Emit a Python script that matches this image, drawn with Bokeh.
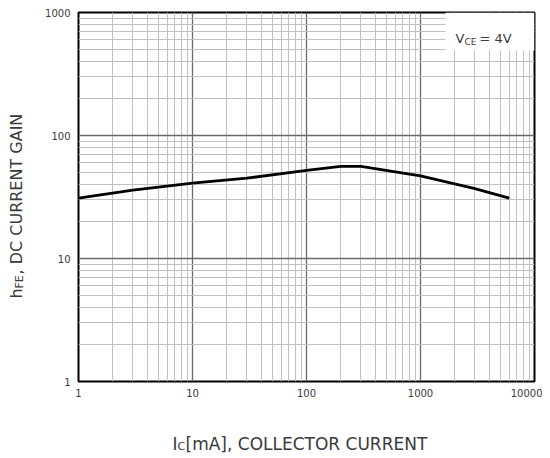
import math
from bokeh.plotting import figure
from bokeh.layouts import row, column
from bokeh.models import FixedTicker, PrintfTickFormatter, Label, BoxAnnotation, Range1d
from bokeh.embed import file_html
from bokeh.resources import INLINE

# ---- data ----
collector_current_ma = [1, 3, 10, 30, 100, 200, 300, 1000, 3000, 6000]
dc_current_gain = [31, 36, 41, 45, 52, 56, 56, 47, 37, 31]

x_major_ticks = [1, 10, 100, 1000, 10000]
y_major_ticks = [1, 10, 100, 1000]

FONT = "DejaVu Sans"
TXT = "#3a3a3a"

YW = 30          # width of the y-title strip
MAIN_H = 420     # height of main plot
XH = 34          # height of the x-title strip
TOTAL_W = 542

p = figure(width=TOTAL_W - YW, height=MAIN_H, x_axis_type="log", y_axis_type="log",
           x_range=Range1d(1, 10000), y_range=Range1d(1, 1000),
           output_backend="svg", toolbar_location=None,
           min_border_left=78 - YW, min_border_right=8, min_border_top=12,
           min_border_bottom=MAIN_H - 381)

x_minor = [m * d for d in [1, 10, 100, 1000] for m in range(2, 10)]
y_minor = [m * d for d in [1, 10, 100] for m in range(2, 10)]
xt = FixedTicker(ticks=x_major_ticks, minor_ticks=x_minor)
yt = FixedTicker(ticks=y_major_ticks, minor_ticks=y_minor)
p.xaxis.ticker = xt
p.yaxis.ticker = yt
p.xgrid.ticker = xt
p.ygrid.ticker = yt
for ax in (p.xaxis, p.yaxis):
    ax.formatter = PrintfTickFormatter(format="%d")
    ax.axis_line_color = None
    ax.major_tick_line_color = None
    ax.minor_tick_line_color = None
    ax.major_tick_out = 0
    ax.minor_tick_out = 0
    ax.major_label_text_font = FONT
    ax.major_label_text_font_size = "10px"
    ax.major_label_text_color = TXT
p.yaxis.major_label_standoff = 8
p.xaxis.major_label_standoff = 7

for g in (p.xgrid, p.ygrid):
    g.grid_line_color = "#6a6a6a"
    g.grid_line_width = 1.3
    g.minor_grid_line_color = "#c0c0c0"
    g.minor_grid_line_width = 1

p.outline_line_color = "black"
p.outline_line_width = 2
p.background_fill_color = "white"
p.border_fill_color = "white"

p.line(collector_current_ma, dc_current_gain, line_color="black", line_width=2.8)


def dx(px):
    return 10 ** ((px - 78) / 114.0)


def dy(py):
    return 10 ** ((381 - py) / 123.0)


def lab(x, y, text, size, angle=0.0):
    return Label(x=x, y=y, x_units="screen", y_units="screen", text=text,
                 angle=angle, text_font=FONT, text_font_size=size, text_color=TXT,
                 text_baseline="alphabetic", text_align="left")


# legend box (inside frame)
p.add_layout(BoxAnnotation(left=dx(445), right=10000, bottom=dy(50), top=1000,
                           fill_color="white", fill_alpha=1, line_color=None))
p.add_layout(Label(x=dx(455), y=dy(38), text="V", text_font=FONT, text_font_size="13px",
                   text_color=TXT, text_baseline="alphabetic", text_align="left"))
p.add_layout(Label(x=dx(464), y=dy(41), text="CE", text_font=FONT, text_font_size="9px",
                   text_color=TXT, text_baseline="alphabetic", text_align="left"))
p.add_layout(Label(x=dx(479), y=dy(38), text="= 4V", text_font=FONT, text_font_size="13px",
                   text_color=TXT, text_baseline="alphabetic", text_align="left"))


def strip(w, h):
    f = figure(width=w, height=h, output_backend="svg", toolbar_location=None,
               x_axis_location=None, y_axis_location=None, min_border=0,
               x_range=Range1d(0, 1), y_range=Range1d(0, 1))
    f.outline_line_color = None
    f.xgrid.visible = False
    f.ygrid.visible = False
    f.background_fill_color = "white"
    f.border_fill_color = "white"
    return f


# y axis title strip (rotated text); its frame lines up with the main frame
yfig = strip(YW, MAIN_H)
A = math.pi / 2
yfig.add_layout(lab(16, 381 - 298, "h", "16px", A))
yfig.add_layout(lab(19, 381 - 288, "FE", "11px", A))
yfig.add_layout(lab(16, 381 - 274, ", DC CURRENT GAIN", "16px", A))

# x axis title strip
xfig = strip(TOTAL_W, XH)
xfig.add_layout(lab(172, 11, "I", "17px"))
xfig.add_layout(lab(177, 8, "C", "11px"))
xfig.add_layout(lab(185, 11, "[mA], COLLECTOR CURRENT", "17px"))

layout = column(row(yfig, p, spacing=0), xfig, spacing=0)

open("out.html", "w").write(file_html(layout, INLINE))
